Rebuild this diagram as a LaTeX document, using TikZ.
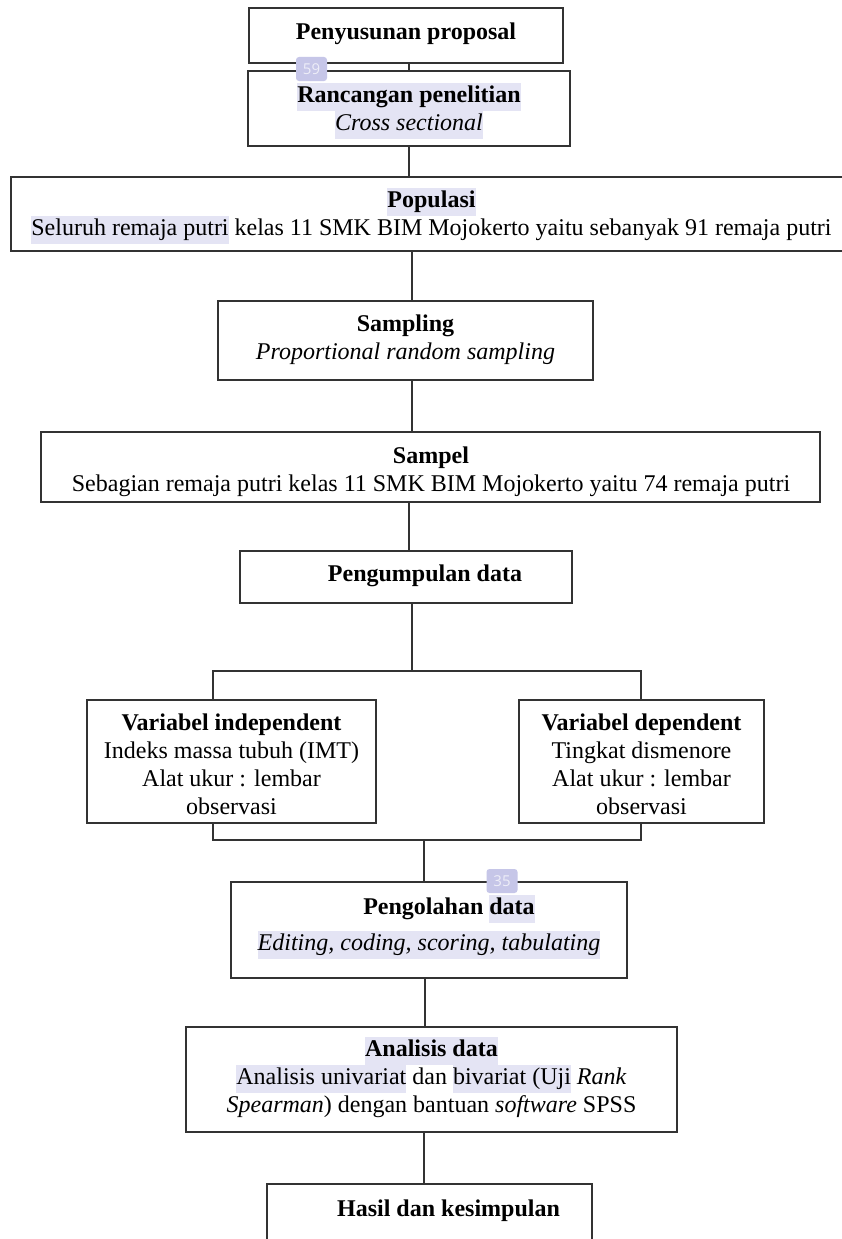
\documentclass[tikz,border=0pt]{standalone}
\usepackage{fontspec}
\setmainfont{Liberation Serif}
\newfontfamily\badgefont{Open Sans}
\definecolor{hlc}{HTML}{E4E4F4}
\definecolor{bdg}{HTML}{C6C6E8}
\newcommand{\hlt}[1]{{\setlength{\fboxsep}{0pt}\colorbox{hlc}{\strut #1}}}
\begin{document}
\begin{tikzpicture}[x={(1pt,0pt)}, y={(0pt,-1pt)},
  box/.style={draw=black!80, line width=1.2pt, rectangle, inner sep=0pt, outer sep=0pt},
  conn/.style={draw=black!80, line width=1.2pt},
  txt/.style={align=center, inner sep=0pt, font=\fontsize{24}{28}\selectfont},
  badge/.style={fill=bdg, rounded corners=3pt, minimum width=31pt, minimum height=24pt, inner sep=0pt, text=white!70!bdg, font=\badgefont\fontsize{15}{15}\selectfont}]
\useasboundingbox (0,0) rectangle (841,1239);
\fill[white] (0,0) rectangle (841,1239);

% boxes
\node[box, minimum width=314pt, minimum height=55pt] (prop) at (406,35.5) {};
\node[box, minimum width=322pt, minimum height=75pt] (ranc) at (409,108.5) {};
\node[box, minimum width=841pt, minimum height=74pt] (pop) at (431.5,214) {};
\node[box, minimum width=375pt, minimum height=79pt] (samp) at (405.5,340.5) {};
\node[box, minimum width=779pt, minimum height=70pt] (sampel) at (430.5,467) {};
\node[box, minimum width=332pt, minimum height=52pt] (kumpul) at (406,577) {};
\node[box, minimum width=289pt, minimum height=123pt] (indep) at (231.5,761.5) {};
\node[box, minimum width=245pt, minimum height=123pt] (dep) at (641.5,761.5) {};
\node[box, minimum width=396pt, minimum height=96pt] (olah) at (429,930) {};
\node[box, minimum width=491pt, minimum height=105pt] (anal) at (431.5,1079.5) {};
\node[box, minimum width=325pt, minimum height=86pt] (hasil) at (429.5,1227) {};

% connectors
\draw[conn] ([xshift=3pt]prop.south) -- (ranc.north);
\draw[conn] (ranc.south) -- ([xshift=-22.5pt]pop.north);
\draw[conn] ([xshift=-19.5pt]pop.south) -- ([xshift=6.5pt]samp.north);
\draw[conn] ([xshift=6.5pt]samp.south) -- ([xshift=-18.5pt]sampel.north);
\draw[conn] ([xshift=-21.5pt]sampel.south) -- ([xshift=3pt]kumpul.north);
\coordinate (fork) at (412,671);
\coordinate (join) at (424,840);
\draw[conn] ([xshift=6pt]kumpul.south) -- (fork);
\draw[conn] ([xshift=-18.5pt]indep.north) |- (fork) -| ([xshift=-0.5pt]dep.north);
\draw[conn] ([xshift=-18.5pt]indep.south) |- (join) -| ([xshift=-0.5pt]dep.south);
\draw[conn] (join) -- ([xshift=-5pt]olah.north);
\draw[conn] ([xshift=-4pt]olah.south) -- ([xshift=-6.5pt]anal.north);
\draw[conn] ([xshift=-7.5pt]anal.south) -- ([xshift=-5.5pt]hasil.north);

% texts
\node[txt] (t1) at (406,34) {\strut\textbf{Penyusunan proposal}};
\node[txt] (t2) at (409,111) {\strut\textbf{\hlt{Rancangan penelitian}}\\ \strut\hlt{\textit{Cross sectional}}};
\node[txt] (t3) at (431.5,216) {\strut\textbf{\hlt{Populasi}}\\ \strut\hlt{Seluruh remaja putri} kelas 11 SMK BIM Mojokerto yaitu sebanyak 91 remaja putri};
\node[txt] (t4) at (405.5,340) {\strut\textbf{Sampling}\\ \strut\textit{Proportional random sampling}};
\node[txt] (t5) at (431,472) {\strut\textbf{Sampel}\\ \strut Sebagian remaja putri kelas 11 SMK BIM Mojokerto yaitu 74 remaja putri};
\node[txt] (t6) at (425,576) {\strut\textbf{Pengumpulan data}};
\node[txt] (t7) at (231.5,767) {\strut\textbf{Variabel independent}\\ \strut Indeks massa tubuh (IMT)\\ \strut Alat ukur : lembar\\ \strut observasi};
\node[txt] (t8) at (641.5,767) {\strut\textbf{Variabel dependent}\\ \strut Tingkat dismenore\\ \strut Alat ukur : lembar\\ \strut observasi};
\node[txt] (t9a) at (449,909) {\strut\textbf{Pengolahan \hlt{data}}};
\node[txt] (t9b) at (429,945) {\strut\hlt{\textit{Editing, coding, scoring, tabulating}}};
\node[txt] (t10) at (431.5,1079) {\strut\textbf{\hlt{Analisis data}}\\ \strut\hlt{Analisis univariat} dan \hlt{bivariat (Uji} \textit{Rank}\\ \strut\textit{Spearman}) dengan bantuan \textit{software} SPSS};
\node[txt] (t11) at (448.5,1211) {\strut\textbf{Hasil dan kesimpulan}};

% badges
\node[badge] (b59) at (311.5,69) {59};
\node[badge] (b35) at (502,881) {35};
\end{tikzpicture}
\end{document}
